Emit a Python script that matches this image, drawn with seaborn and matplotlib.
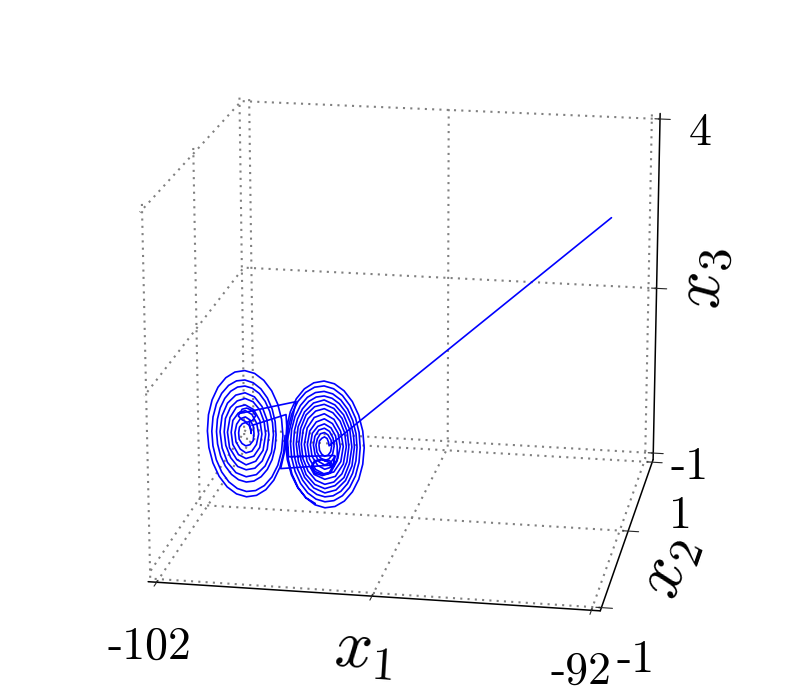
import numpy as np
import matplotlib
matplotlib.use("Agg")
import matplotlib.pyplot as plt
import seaborn as sns
from mpl_toolkits.mplot3d import Axes3D

sns.set_style("white")
plt.rcParams['font.family'] = ['cmr10', 'DejaVu Serif']
plt.rcParams['mathtext.fontset'] = 'cm'
plt.rcParams['axes.formatter.use_mathtext'] = True
plt.rcParams['text.color'] = 'black'

x1_ticks = [-102, -97, -92]
x2_ticks = [-1, 1, 3]
x3_ticks = [-1, 1.5, 4]
x1_labels = ['-102', '', '-92']
x2_labels = ['-1', '1', '']
x3_labels = ['-1', '', '4']

start_point = (-92.32, 1.0, 3.372)
x2_level = 1.0
right_centre = (-99.116, -0.108)
left_centre = (-101.04, 0.007)
jump_centre = (-98.976, -0.018)
right_width, right_height = 1.23, 1.06
left_width, left_height = 1.14, 1.04
jump_width, jump_height = 1.04, 1.04

# first stretch, offsets from the right centre: inner turns and small loop
path_a_dx = [.09,.08,.05,0,-.05,-.10,-.11,-.10,-.06,0,.07,.12,
             .14,.13,.07,0,-.08,-.14,-.17,-.15,-.09,0,.09,.16,
             .19,.17,.10,0,-.11,-.19,-.22,-.19,-.11,0,.12,.21,
             .15,.09,-.05,-.19,-.25,-.19,-.05,.09,.15,.09]
path_a_dz = [0,.05,.10,.12,.10,.06,0,-.07,-.12,-.15,-.13,-.08,
             0,.08,.15,.18,.16,.09,0,-.10,-.17,-.21,-.18,-.11,
             0,.11,.20,.24,.21,.12,0,-.13,-.23,-.27,-.23,-.14,
             -.30,-.23,-.20,-.23,-.30,-.37,-.40,-.37,-.30,-.27]
# jump to the left lobe and the small loop there
jump_a_dx = [-1.17,-.79,-2.11,-2.06,-1.95,-1.82,-1.74,-1.82,-1.95,-2.06,-2.15,-2.11]
jump_a_dz = [-.45,.51,.30,.36,.38,.35,.28,.21,.18,.21,.26,.32]

# left lobe, offsets from the left centre
left_dx = [.08,.12,.11,.07,0,-.07,-.13,-.15,-.14,-.08,0,.09,.16,
           .18,.17,.10,0,-.11,-.19,-.23,-.21,-.12,0,.13,.23,
           .28,.24,.14,0,-.15,-.27,-.31,-.28,-.16,0,.17,.30,
           .35,.31,.18,0,-.19,-.33,-.39,-.35,-.20,0,.21,.37,
           .43,.40,.31,.17,0,-.17,-.32,-.43,-.46,-.43,-.33,-.18,0,.19,.35,.46,
           .50,.46,.36,.20,0,-.20,-.38,-.50,-.55,-.51,-.40,-.22,0,.22,.41,.55,
           .598,.580,.522,.428,.304,.158,0,-.159,-.308,-.437,-.538,-.602,
           -.626,-.607,-.546,-.447,-.317,-.165,0,.166,.322,.457,.562,.629,
           .653,.637,.576,.475,.339,.177,0,-.180,-.351,-.501,-.619,-.696,
           -.727,-.708,-.640,-.527,-.376,-.196,0,.199,.388,.553,.683,.767,
           .800,.775,.696,.570,.404,.210,0,-.211,-.408,-.578,-.709,-.793,
           -.822,-.796,-.715,-.585,-.415,-.215,0,.216,.419,.593,.728,.814,.846]
left_dz = [.17,0,.07,.12,.15,.13,.08,0,-.09,-.15,-.18,-.16,-.10,
           0,.10,.19,.23,.20,.12,0,-.13,-.23,-.28,-.25,-.15,
           0,.15,.27,.32,.28,.17,0,-.17,-.31,-.36,-.32,-.19,
           0,.19,.34,.40,.36,.21,0,-.22,-.38,-.45,-.39,-.23,
           0,.18,.34,.45,.49,.45,.35,.19,0,-.19,-.36,-.48,-.52,-.49,-.38,-.21,
           0,.21,.39,.52,.57,.53,.41,.23,0,-.23,-.43,-.57,-.62,-.58,-.45,-.25,
           0,.169,.328,.465,.572,.640,.665,.645,.580,.475,.338,.175,
           0,-.177,-.343,-.486,-.598,-.669,-.695,-.674,-.606,-.497,-.353,-.183,
           0,.186,.362,.516,.638,.718,.750,.731,.661,.544,.389,.203,
           0,-.206,-.402,-.573,-.708,-.795,-.830,-.809,-.730,-.601,-.429,-.224,
           0,.226,.437,.619,.760,.850,.882,.854,.767,.628,.445,.231,
           0,-.232,-.449,-.636,-.781,-.873,-.906,-.877,-.788,-.645,-.457,-.237,0]

# jump back to the right lobe
jump_b_dx = [-1.83,-1.03,-.98,.1]
jump_b_dz = [.14,.32,-.275,-.22]
# second stretch, offsets from the right centre: small loop and outer turns
path_b_dx = [.17,.11,-.05,-.20,-.27,-.20,-.05,.11,.25,
             .25,.22,.13,0,-.13,-.24,-.28,-.25,-.14,0,.15,.26,
             .31,.27,.16,0,-.16,-.29,-.34,-.30,-.18,0,.18,.32,
             .37,.32,.19,0,-.20,-.34,-.40,-.35,-.21,0,.21,.37,
             .43,.40,.31,.17,0,-.17,-.32,-.42,-.46,-.43,-.33,-.18,0,.18,.34,.44,
             .48,.45,.35,.19,0,-.19,-.36,-.47,-.51,-.47,-.37,-.20,0,.20,.38,.49,
             .54,.50,.38,.21,0,-.21,-.39,-.52,-.56,-.52,-.40,-.22,0,.22,.41,.54,
             .590,.572,.514,.422,.299,.156,0,-.157,-.304,-.431,-.530,-.593,
             -.616,-.597,-.537,-.440,-.312,-.162,0,.164,.317,.450,.552,.618,
             .642,.623,.561,.460,.327,.170,0,-.171,-.332,-.471,-.579,-.649,
             -.674,-.654,-.588,-.482,-.342,-.178,0,.179,.348,.493,.607,.679,
             .704,.684,.615,.505,.359,.187,0,-.188,-.365,-.519,-.638,-.715,
             -.744,-.722,-.650,-.533,-.378,-.197,0,.199,.385,.547,.673,.753,
             .783,.756,.678,.554,.392,.203,0,-.202,-.390,-.550,-.671,-.746,
             -.770,-.741,-.662,-.538,-.378,-.193]
path_b_dz = [-.29,-.21,-.19,-.22,-.31,-.39,-.42,-.38,-.20,
             0,.14,.25,.30,.26,.16,0,-.16,-.28,-.33,-.29,-.17,
             0,.18,.31,.37,.32,.19,0,-.20,-.34,-.40,-.36,-.21,
             0,.21,.37,.44,.38,.23,0,-.23,-.41,-.47,-.42,-.24,
             0,.19,.35,.46,.51,.47,.36,.20,0,-.20,-.37,-.49,-.54,-.50,-.38,-.21,
             0,.21,.39,.52,.57,.53,.41,.22,0,-.22,-.42,-.55,-.60,-.55,-.43,-.23,
             0,.24,.44,.57,.63,.58,.45,.24,0,-.25,-.46,-.60,-.66,-.61,-.47,-.26,
             0,.174,.338,.479,.589,.659,.685,.664,.598,.490,.348,.181,
             0,-.182,-.353,-.500,-.615,-.688,-.715,-.693,-.624,-.511,-.363,-.188,
             0,.190,.368,.522,.643,.720,.748,.725,.653,.535,.380,.198,
             0,-.199,-.386,-.548,-.674,-.754,-.784,-.760,-.684,-.561,-.398,-.207,
             0,.208,.404,.573,.706,.791,.823,.798,.719,.590,.419,.218,
             0,-.220,-.427,-.605,-.745,-.835,-.868,-.841,-.758,-.621,-.442,-.229,
             0,.231,.445,.629,.771,.860,.890,.858,.767,.625,.441,.227,
             0,-.226,-.434,-.611,-.743,-.816]

fig = plt.figure(figsize=(8, 7), dpi=100)
ax = fig.add_axes([0.003, 0.0, 1.0, 1.0], projection='3d')
ax.view_init(elev=17.5, azim=-80)
ax.set_box_aspect((4, 4, 3.42), zoom=1.012)

line_style = dict(color='blue', lw=1.2)
a_x = np.r_[start_point[0],
            right_centre[0] + right_width * np.array(path_a_dx),
            jump_centre[0] + jump_width * np.array(jump_a_dx)]
a_z = np.r_[start_point[2],
            right_centre[1] + right_height * np.array(path_a_dz),
            jump_centre[1] + jump_height * np.array(jump_a_dz)]
ax.plot(a_x, np.full(a_x.size, x2_level), a_z, **line_style)
l_x = left_centre[0] + left_width * np.array(left_dx)
l_z = left_centre[1] + left_height * np.array(left_dz)
ax.plot(l_x, np.full(l_x.size, x2_level), l_z, **line_style)
b_x = np.r_[jump_centre[0] + jump_width * np.array(jump_b_dx),
            right_centre[0] + right_width * np.array(path_b_dx)]
b_z = np.r_[jump_centre[1] + jump_height * np.array(jump_b_dz),
            right_centre[1] + right_height * np.array(path_b_dz)]
ax.plot(b_x, np.full(b_x.size, x2_level), b_z, **line_style)

ax.set_xlim(-102.2, -91.8); ax.set_ylim(-1.08, 3.08); ax.set_zlim(-1.1, 4.08)
ax.set_xticks(x1_ticks); ax.set_xticklabels([''] * 3)
ax.set_yticks(x2_ticks); ax.set_yticklabels([''] * 3)
ax.set_zticks(x3_ticks); ax.set_zticklabels([''] * 3)
ax.set_xlabel(r'$x_1$', fontsize=48, labelpad=6)
ax.set_ylabel(r'$x_2$', fontsize=48, labelpad=4)
ax.set_zlabel(r'$x_3$', fontsize=48, labelpad=7)
for a in (ax.xaxis, ax.yaxis, ax.zaxis):
    a.set_pane_color((1, 1, 1, 0))
    a.pane.set_edgecolor((1, 1, 1, 0))
    a._axinfo['grid'].update(color='gray', linestyle=(0, (1, 2.5)), linewidth=1.5)
    a._axinfo['tick'].update(color='black', inward_factor=0.3, outward_factor=0.15)
    a.line.set_color('black')
    a.line.set_linewidth(1.1)
    a.label.set_color('black')

tick_label_spots = [(x1_labels[0], 149, 647), (x1_labels[2], 581, 672),
                    (x2_labels[0], 636, 660), (x2_labels[1], 680, 516),
                    (x3_labels[0], 690, 467), (x3_labels[2], 700, 133)]
for text, px, py in tick_label_spots:
    fig.text(px / 800, 1 - py / 700, text, fontsize=33, ha='center', va='center', color='black')
fig.savefig('out.png', dpi=100)
